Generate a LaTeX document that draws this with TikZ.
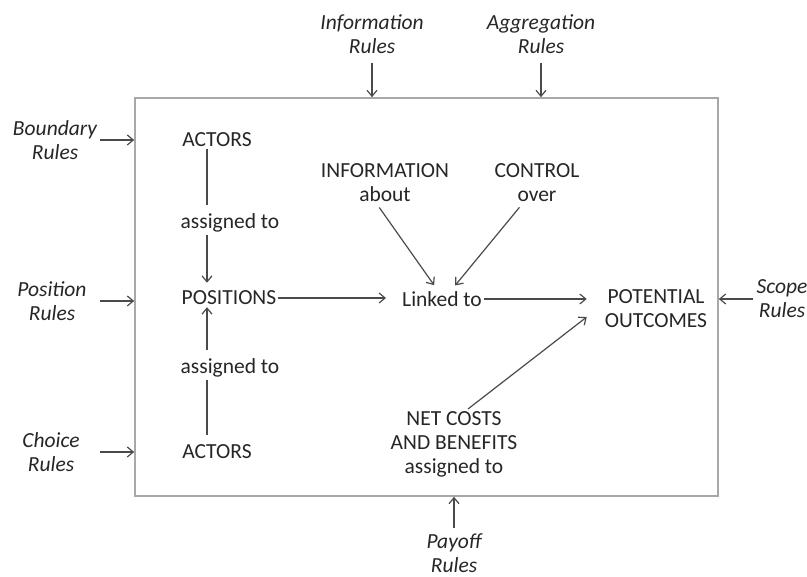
\documentclass[tikz,border=0pt]{standalone}
\usepackage{fontspec}
\setmainfont{Carlito}
\usetikzlibrary{arrows.meta}

\definecolor{inkgray}{HTML}{262626}
\definecolor{wiregray}{HTML}{4A4A4A}
\definecolor{framegray}{HTML}{A8A8A8}

\begin{document}
\begin{tikzpicture}[x=1pt,y=-1pt,
	every node/.style={font=\fontsize{21.5}{24}\selectfont, text=inkgray, align=center, inner sep=2pt},
	rulelabel/.style={font=\fontsize{21.5}{24}\selectfont\itshape},
	wire/.style={draw=wiregray, line width=1.2pt},
	feed/.style={wire, -{Straight Barb[length=6pt,width=10pt]}}]

	\useasboundingbox (0,0) rectangle (807,577);

	% The action arena
	\node[draw=framegray, line width=1.6pt, minimum width=583pt, minimum height=398pt, inner sep=0pt] (arena) at (426.5,297) {};

	% Rules around the arena
	\node[rulelabel] (infoR) at (372,34) {Information\\Rules};
	\node[rulelabel] (aggR) at (541,34) {Aggregation\\Rules};
	\node[rulelabel] (boundR) at (55,140) {Boundary\\Rules};
	\node[rulelabel] (posR) at (52,301) {Position\\Rules};
	\node[rulelabel] (choiceR) at (51,452) {Choice\\Rules};
	\node[rulelabel] (scopeR) at (782,299) {Scope\\Rules};
	\node[rulelabel] (payR) at (454,553) {Payoff\\Rules};

	% Where the rule arrows start
	\coordinate (tailT) at (0,63);
	\coordinate (tailL) at (100,0);
	\coordinate (tailR) at (753,0);
	\coordinate (tailB) at (0,528);

	% Rule arrows into the arena
	\draw[feed] (infoR |- tailT) -- (infoR |- arena.north);
	\draw[feed] (aggR |- tailT) -- (aggR |- arena.north);
	\draw[feed] (boundR -| tailL) -- (boundR -| arena.west);
	\draw[feed] (posR -| tailL) -- (posR -| arena.west);
	\draw[feed] (choiceR -| tailL) -- (choiceR -| arena.west);
	\draw[feed] (scopeR -| tailR) -- (scopeR -| arena.east);
	\draw[feed] (payR |- tailB) -- (payR |- arena.south);

	% Inside the arena
	\node (actA) at (217,140) {ACTORS};
	\node (asgA) at (230,223) {assigned to};
	\node (pos) at (229,298) {POSITIONS};
	\node (asgB) at (230,368) {assigned to};
	\node (actB) at (217,452) {ACTORS};
	\node (info) at (385,183) {INFORMATION\\about};
	\node (ctrl) at (537,183) {CONTROL\\over};
	\node (link) at (442,299) {Linked to};
	\node (pot) at (656,309) {POTENTIAL\\OUTCOMES};
	\node (net) at (454,444) {NET COSTS\\AND BENEFITS\\assigned to};

	% Actors to positions
	\coordinate (spine) at (207,0);
	\draw[wire, shorten >=6pt] (actA.south -| spine) -- (asgA.north -| spine);
	\draw[feed, shorten >=6pt] (asgA.south -| spine) -- (pos.north -| spine);
	\draw[feed, shorten <=6pt] (asgB.north -| spine) -- (pos.south -| spine);
	\draw[wire, shorten <=8pt] (actB.north -| spine) -- (asgB.south -| spine);

	% Positions, information and control to outcomes
	\draw[feed, shorten >=14pt] (pos.east) -- (link.west |- pos);
	\draw[feed, shorten <=4pt, shorten >=5pt] ([xshift=-8pt]info.south) -- ([xshift=-5pt]link.north);
	\draw[feed, shorten <=4pt, shorten >=5pt] ([xshift=-15pt]ctrl.south) -- ([xshift=10pt]link.north);
	\draw[feed, shorten >=16pt] (link.east) -- (pot.west |- link);
	\draw[feed] ([xshift=14pt]net.north) -- ([shift={(-16,8)}]pot.west);
\end{tikzpicture}
\end{document}
